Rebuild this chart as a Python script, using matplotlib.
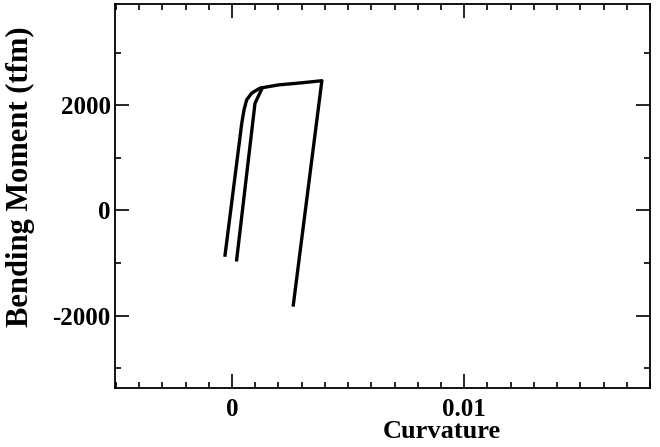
import numpy as np
import matplotlib
matplotlib.use("Agg")
import matplotlib.pyplot as plt
from matplotlib.ticker import MultipleLocator, FuncFormatter

plt.rcParams['font.family'] = ['Liberation Serif', 'DejaVu Serif']
plt.rcParams['font.weight'] = 'bold'
plt.rcParams['axes.unicode_minus'] = False

# loading branch -> plateau -> unloading branch
curv_a = [-0.00030, 0.00042, 0.00052, 0.00063, 0.00085, 0.00121, 0.00200, 0.00300, 0.00387, 0.00264]
mom_a = [-850, 1660, 1920, 2105, 2235, 2330, 2390, 2430, 2470, -1800]

# second loading branch joining the plateau
curv_b = [0.00020, 0.00099, 0.00128]
mom_b = [-940, 2040, 2310]

fig = plt.figure(figsize=(6.6, 4.47), dpi=100)
ax = fig.add_axes([0.1742, 0.132, 0.8106, 0.859])

ax.plot(curv_a, mom_a, color='black', lw=2.4, solid_joinstyle='round')
ax.plot(curv_b, mom_b, color='black', lw=2.4, solid_joinstyle='round')

ax.set_xlim(-0.00504, 0.0180)
ax.set_ylim(-3380, 3930)

ax.xaxis.set_major_locator(MultipleLocator(0.01))
ax.xaxis.set_minor_locator(MultipleLocator(0.001))
ax.yaxis.set_major_locator(MultipleLocator(2000))
ax.yaxis.set_minor_locator(MultipleLocator(1000))
ax.xaxis.set_major_formatter(FuncFormatter(lambda v, p: '0' if abs(v) < 1e-12 else '%g' % v))
ax.yaxis.set_major_formatter(FuncFormatter(lambda v, p: '%d' % round(v)))

ax.tick_params(which='both', direction='in', top=True, right=True, width=1.2)
ax.tick_params(which='major', length=10)
ax.tick_params(which='minor', length=4.5)
ax.tick_params(axis='x', which='major', labelsize=18, pad=7)
ax.tick_params(axis='y', which='major', labelsize=18, pad=3)
for lab in ax.get_xticklabels() + ax.get_yticklabels():
    lab.set_fontweight('bold')

for s in ax.spines.values():
    s.set_linewidth(1.3)

ax.set_xlabel('Curvature', fontsize=19, fontweight='bold')
ax.xaxis.set_label_coords(0.61, -0.083)
ax.set_ylabel('Bending Moment (tfm)', fontsize=22, fontweight='bold')
ax.yaxis.set_label_coords(-0.15, 0.55)

fig.savefig('out.png', dpi=100)
